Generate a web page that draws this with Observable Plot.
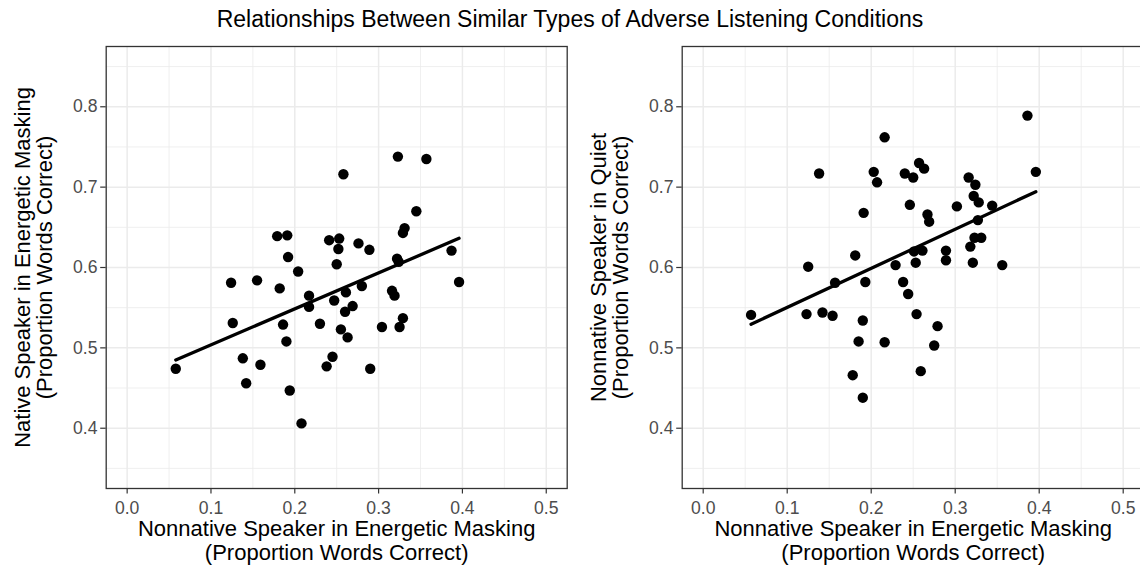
<!DOCTYPE html>
<html>
<head>
<meta charset="utf-8">
<script src="https://cdn.jsdelivr.net/npm/d3@7"></script>
<script src="https://cdn.jsdelivr.net/npm/@observablehq/plot@0.6"></script>
<style>
html, body { margin: 0; padding: 0; background: #ffffff; }
#wrap { position: relative; width: 1140px; height: 569px; overflow: hidden; font-family: "Liberation Sans", Arial, Helvetica, sans-serif; background: #fff; }
#title { position: absolute; left: 0; top: 8px; width: 1140px; text-align: center; font-size: 23px; line-height: 23px; color: #000; }
#left, #right { position: absolute; top: 0; height: 569px; }
#left { left: 0; width: 570px; }
#right { left: 570px; width: 580px; }
#left svg, #right svg { max-width: none !important; display: block; }
</style>
</head>
<body>
<div id="wrap">
  <div id="left"></div>
  <div id="right"></div>
  <div id="title">Relationships Between Similar Types of Adverse Listening Conditions</div>
</div>
<script>
// Left panel: Nonnative speaker in energetic masking (x) vs native speaker in energetic masking (y)
const xLeft = [0.258, 0.323, 0.357, 0.345, 0.331, 0.329, 0.179, 0.191, 0.241, 0.253,
               0.252, 0.276, 0.289, 0.387, 0.322, 0.324, 0.192, 0.250, 0.204, 0.124,
               0.155, 0.396, 0.182, 0.280, 0.217, 0.261, 0.316, 0.319, 0.247, 0.217,
               0.269, 0.260, 0.126, 0.186, 0.230, 0.255, 0.263, 0.304, 0.329, 0.325,
               0.190, 0.138, 0.159, 0.058, 0.245, 0.238, 0.290, 0.142, 0.194, 0.208];
const yLeft = [0.716, 0.738, 0.735, 0.670, 0.649, 0.643, 0.639, 0.640, 0.634, 0.636,
               0.623, 0.630, 0.622, 0.621, 0.611, 0.607, 0.613, 0.604, 0.595, 0.581,
               0.584, 0.582, 0.574, 0.577, 0.565, 0.569, 0.571, 0.565, 0.559, 0.551,
               0.552, 0.545, 0.531, 0.529, 0.530, 0.523, 0.513, 0.526, 0.537, 0.526,
               0.508, 0.487, 0.479, 0.474, 0.489, 0.477, 0.474, 0.456, 0.447, 0.406];

// Right panel: Nonnative speaker in energetic masking (x) vs nonnative speaker in quiet (y)
const xRight = [0.386, 0.216, 0.138, 0.203, 0.207, 0.396, 0.240, 0.250, 0.257, 0.263,
                0.316, 0.324, 0.191, 0.246, 0.267, 0.269, 0.302, 0.322, 0.328, 0.344,
                0.327, 0.323, 0.331, 0.318, 0.289, 0.289, 0.321, 0.356, 0.251, 0.261,
                0.253, 0.229, 0.181, 0.125, 0.157, 0.193, 0.238, 0.244, 0.057, 0.123,
                0.142, 0.154, 0.190, 0.254, 0.279, 0.185, 0.216, 0.275, 0.178, 0.259,
                0.190];
const yRight = [0.789, 0.762, 0.717, 0.719, 0.706, 0.719, 0.717, 0.712, 0.730, 0.723,
                0.712, 0.703, 0.668, 0.678, 0.666, 0.657, 0.676, 0.689, 0.681, 0.677,
                0.659, 0.637, 0.637, 0.626, 0.621, 0.609, 0.606, 0.603, 0.620, 0.621,
                0.606, 0.603, 0.615, 0.601, 0.581, 0.582, 0.582, 0.567, 0.541, 0.542,
                0.544, 0.540, 0.534, 0.542, 0.527, 0.508, 0.507, 0.503, 0.466, 0.471,
                0.438];

const xTicks = [0, 0.1, 0.2, 0.3, 0.4, 0.5];
const yTicks = [0.4, 0.5, 0.6, 0.7, 0.8];
const xMinor = [0.05, 0.15, 0.25, 0.35, 0.45];
const yMinor = [0.35, 0.45, 0.55, 0.65, 0.75, 0.85];
const xTitle = "Nonnative Speaker in Energetic Masking\n(Proportion Words Correct)";
const yTitleLeft = "Native Speaker in Energetic Masking\n(Proportion Words Correct)";
const yTitleRight = "Nonnative Speaker in Quiet\n(Proportion Words Correct)";

const FONT = '"Liberation Sans", Arial, Helvetica, sans-serif';

function panel(xs, ys, yTitle, width, ml, mr) {
  const data = xs.map((x, i) => ({x, y: ys[i]}));
  return Plot.plot({
    width, height: 569,
    marginLeft: ml, marginRight: mr, marginTop: 46, marginBottom: 81,
    style: {fontFamily: FONT, background: "transparent", overflow: "visible", maxWidth: "none"},
    x: {domain: [-0.025, 0.525]},
    y: {domain: [0.325, 0.875]},
    marks: [
      Plot.frame({fill: "white"}),
      Plot.ruleX(xMinor, {stroke: "#EBEBEB", strokeWidth: 0.8}),
      Plot.ruleY(yMinor, {stroke: "#EBEBEB", strokeWidth: 0.8}),
      Plot.ruleX(xTicks, {stroke: "#EBEBEB", strokeWidth: 1.5}),
      Plot.ruleY(yTicks, {stroke: "#EBEBEB", strokeWidth: 1.5}),
      Plot.axisX(xTicks, {tickFormat: d3.format(".1f"), tickSize: 5.5, tickPadding: 7,
        fontSize: 17.6, fill: "#4D4D4D", stroke: "#333333", strokeWidth: 1.2, label: null}),
      Plot.axisY(yTicks, {tickFormat: d3.format(".1f"), tickSize: 5.5, tickPadding: 3.2,
        fontSize: 17.6, fill: "#4D4D4D", stroke: "#333333", strokeWidth: 1.2, label: null}),
      Plot.linearRegressionY(data, {x: "x", y: "y", ci: 0, stroke: "black", strokeWidth: 3.3}),
      Plot.dot(data, {x: "x", y: "y", r: 5.2, fill: "black", stroke: null}),
      Plot.frame({stroke: "#333333", strokeWidth: 1.3}),
      Plot.text([xTitle], {frameAnchor: "bottom", dy: 30, lineAnchor: "top", textAnchor: "middle",
        text: d => d, fontSize: 22, lineHeight: 1.1, fill: "black"}),
      Plot.text([yTitle], {frameAnchor: "left", dx: -72, rotate: -90, lineAnchor: "middle",
        textAnchor: "middle", text: d => d, fontSize: 22, lineHeight: 1.0, fill: "black"})
    ]
  });
}

document.getElementById("left").appendChild(panel(xLeft, yLeft, yTitleLeft, 570, 105.7, 3.3));
document.getElementById("right").appendChild(panel(xRight, yRight, yTitleRight, 580, 111.7, 6.3));
</script>
</body>
</html>
